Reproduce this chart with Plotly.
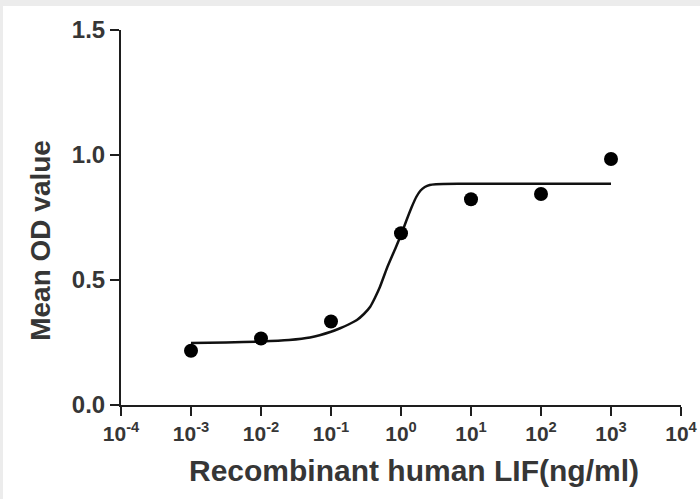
import plotly.graph_objects as go

# Measured points
conc = [1e-3, 1e-2, 1e-1, 1e0, 1e1, 1e2, 1e3]
mean_od = [0.217, 0.266, 0.334, 0.687, 0.823, 0.844, 0.984]

# Fitted curve (log10 concentration, OD)
curve_logc = [-3.0, -2.5, -2.0, -1.6, -1.3, -1.0, -0.87, -0.75, -0.63, -0.53, -0.44, -0.37,
              -0.30, -0.20, -0.09, 0.01, 0.08, 0.15, 0.22, 0.28, 0.34, 0.41, 0.5, 0.6,
              1.0, 2.0, 3.0]
curve_od = [0.248, 0.250, 0.254, 0.260, 0.270, 0.293, 0.307, 0.322, 0.340, 0.364, 0.393, 0.430,
            0.473, 0.548, 0.620, 0.687, 0.740, 0.790, 0.833, 0.858, 0.872, 0.880, 0.883, 0.884,
            0.885, 0.885, 0.885]
curve_conc = [10 ** v for v in curve_logc]

tick_exp = [-4, -3, -2, -1, 0, 1, 2, 3, 4]
tick_vals = [10 ** e for e in tick_exp]
tick_text = ["10<sup>%d</sup>" % e for e in tick_exp]
y_ticks = [0.0, 0.5, 1.0, 1.5]

x_title = "Recombinant human LIF(ng/ml)"
y_title = "Mean OD value"

ink = "#363636"
axis_col = "#1e1e1e"
fig = go.Figure()
fig.add_trace(go.Scatter(x=curve_conc, y=curve_od, mode="lines",
                         line=dict(color="#111111", width=2.5, shape="spline", smoothing=0.6),
                         hoverinfo="skip", showlegend=False))
fig.add_trace(go.Scatter(x=conc, y=mean_od, mode="markers",
                         marker=dict(color="#000000", size=14),
                         showlegend=False))

fig.update_layout(
    width=700, height=499,
    margin=dict(l=121, r=19, t=30, b=94, autoexpand=False),
    paper_bgcolor="#ececec", plot_bgcolor="white",
    font=dict(family="Liberation Sans", color=ink, size=16, weight="bold"),
    shapes=[dict(type="rect", xref="paper", yref="paper",
                 x0=-0.2107, x1=1.1, y0=-0.4, y1=1.064,
                 fillcolor="white", line=dict(width=0), layer="below")],
    annotations=[
        dict(text=x_title, xref="paper", yref="paper", x=0.523, y=-0.175,
             xanchor="center", yanchor="middle", showarrow=False,
             font=dict(size=30, color=ink, weight="bold")),
        dict(text=y_title, xref="paper", yref="paper", x=-0.145, y=0.44,
             xanchor="center", yanchor="middle", showarrow=False, textangle=-90,
             font=dict(size=28, color=ink, weight="bold")),
    ],
)
fig.update_xaxes(type="log", range=[-4, 4], tickvals=tick_vals, ticktext=tick_text,
                 automargin=False,
                 showgrid=False, zeroline=False, showline=True, linecolor=axis_col,
                 linewidth=2, ticks="outside", ticklen=9, tickwidth=2, tickcolor=axis_col,
                 tickfont=dict(size=21, color=ink))
fig.update_yaxes(range=[0, 1.5], tickvals=y_ticks, tickformat=".1f",
                 automargin=False,
                 showgrid=False, zeroline=False, showline=True, linecolor=axis_col,
                 linewidth=2, ticks="outside", ticklen=9, tickwidth=2, tickcolor=axis_col,
                 tickfont=dict(size=24, color=ink))

fig.write_html("out.html", config={"displayModeBar": False},
               post_script="document.body.style.margin='0';")
